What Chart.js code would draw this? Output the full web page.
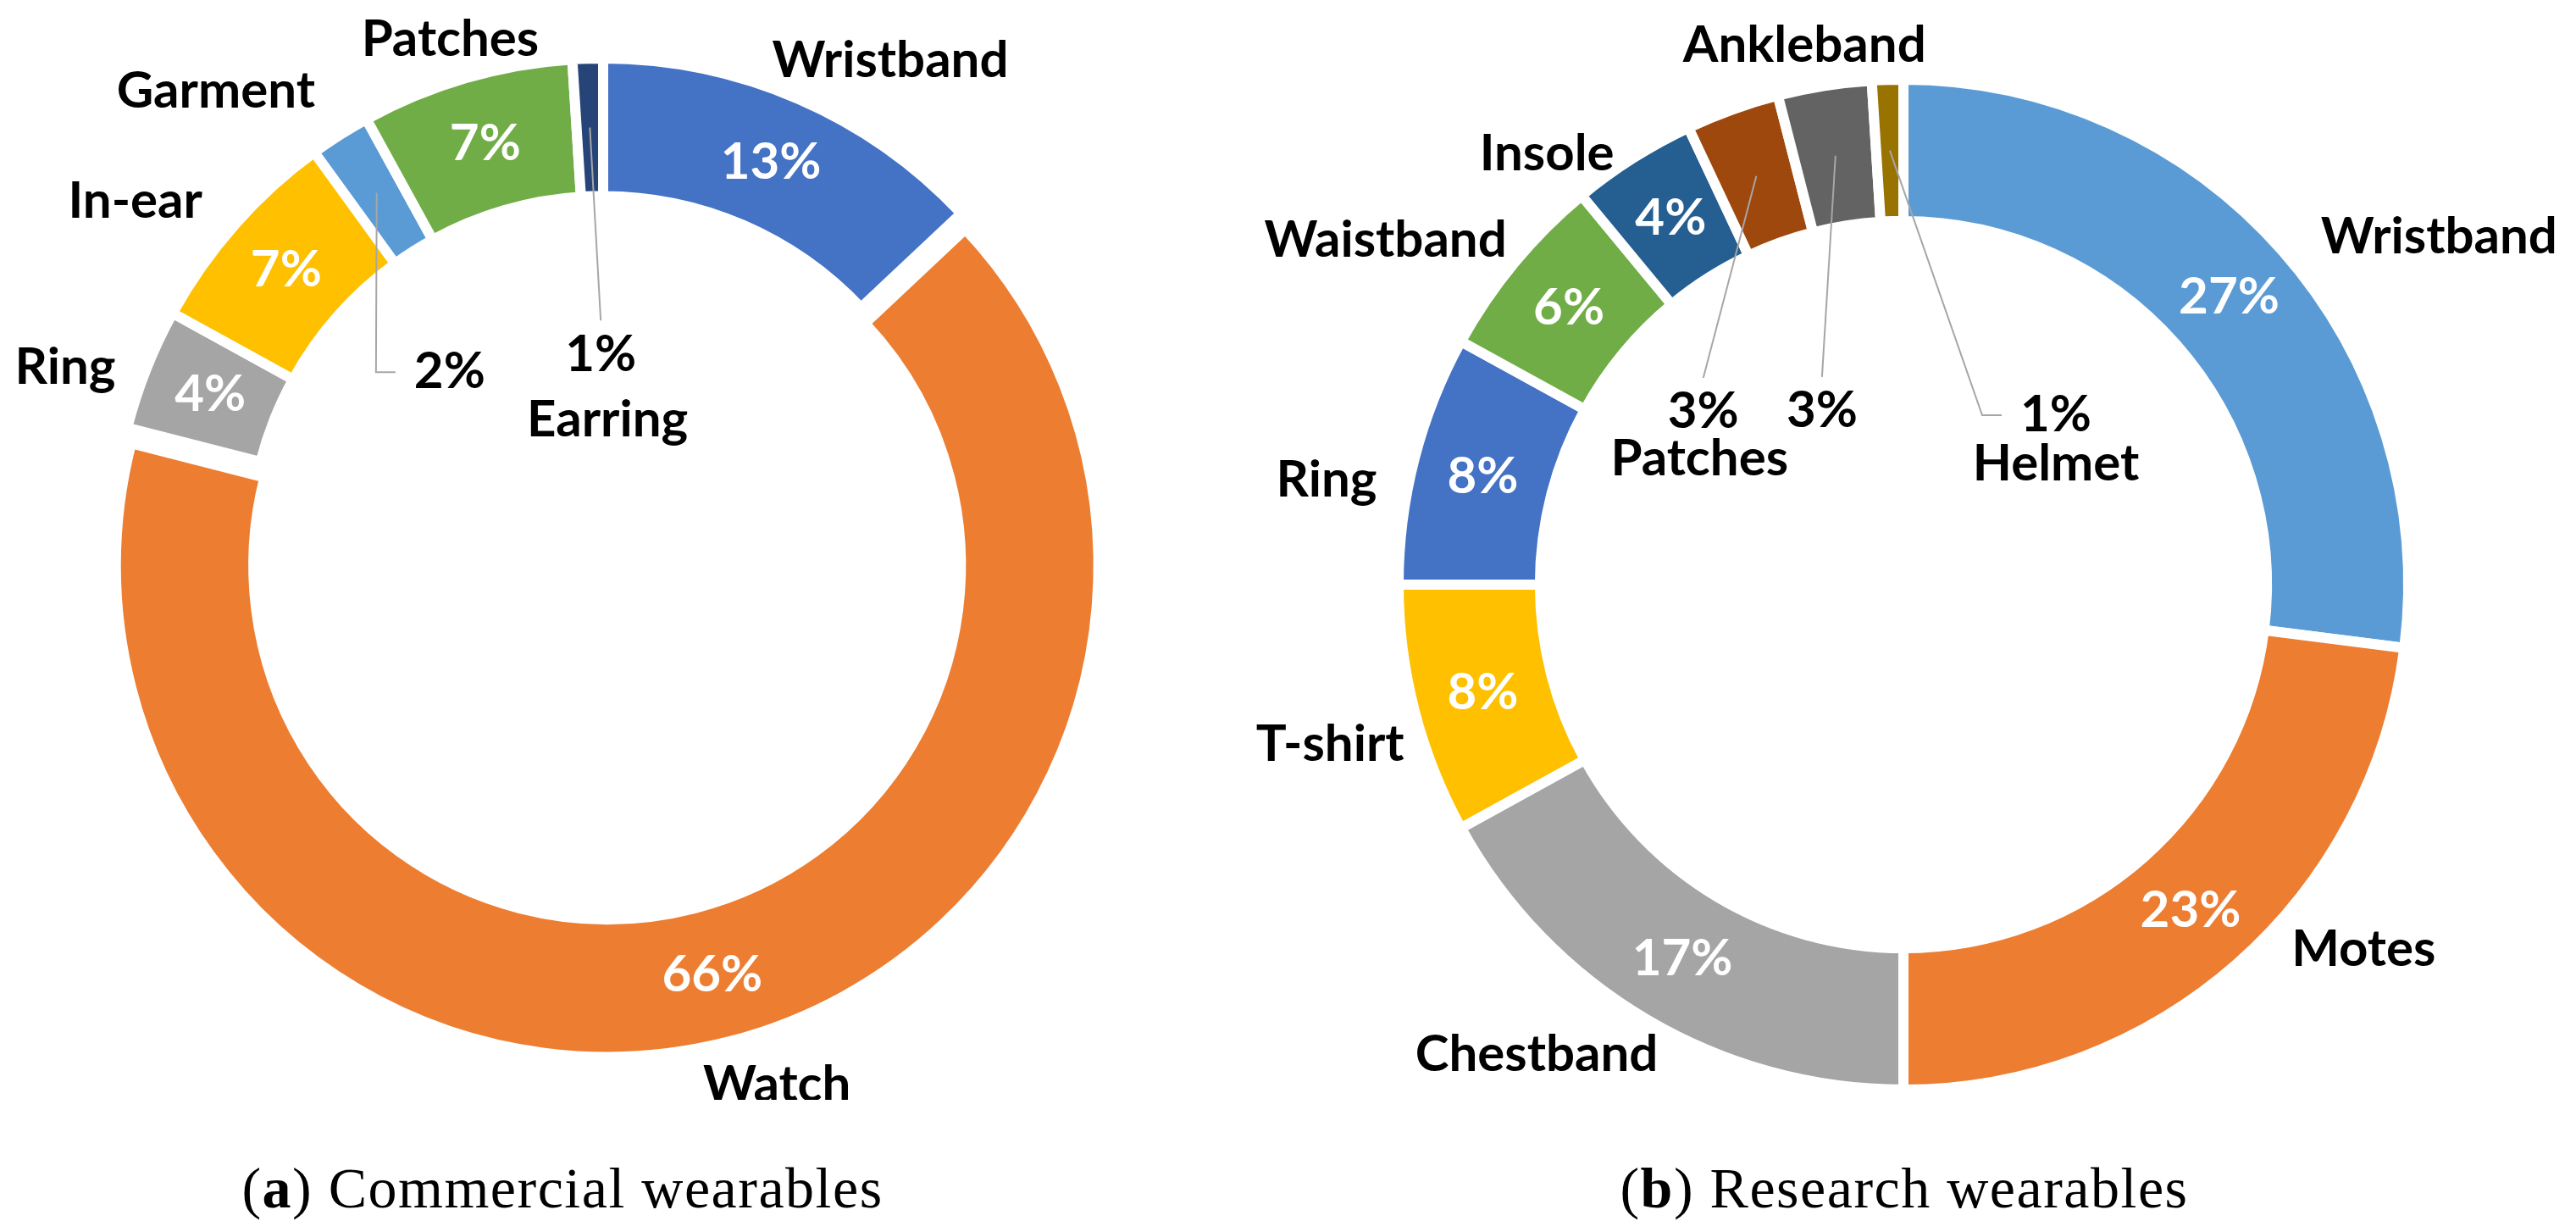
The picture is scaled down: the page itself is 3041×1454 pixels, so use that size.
<!DOCTYPE html>
<html>
<head>
<meta charset="utf-8">
<title>Wearables</title>
<script src="https://cdn.jsdelivr.net/npm/chart.js@4.4.0/dist/chart.umd.min.js"></script>
<style>
  html, body { margin: 0; padding: 0; background: #ffffff; }
  body { width: 3041px; height: 1454px; position: relative; overflow: hidden; }
  canvas { position: absolute; top: 0; }
  #commercial-chart { left: 0px; }
  #research-chart { left: 1460px; }
  .caption {
    position: absolute;
    top: 1368px;
    font-family: 'Liberation Serif', 'Times New Roman', serif;
    font-size: 68px;
    line-height: 68px;
    letter-spacing: 1.5px;
    color: #000;
    white-space: nowrap;
    transform: translateX(-50%);
  }
</style>
</head>
<body>
<canvas id="commercial-chart" width="1424" height="1298"></canvas>
<canvas id="research-chart" width="1574" height="1380"></canvas>
<div class="caption" style="left:664px">(<b>a</b>) Commercial wearables</div>
<div class="caption" style="left:2248px">(<b>b</b>) Research wearables</div>

<script>
// --- Data ---
const commercialCategories = ['Wristband', 'Watch', 'Ring', 'In-ear', 'Garment', 'Patches', 'Earring'];
const commercialShares = [13, 66, 4, 7, 2, 7, 1];

const researchCategories = ['Wristband', 'Motes', 'Chestband', 'T-shirt', 'Ring', 'Waistband', 'Insole', 'Patches', 'Ankleband', 'Helmet'];
const researchShares = [27, 23, 17, 8, 8, 6, 4, 3, 3, 1];

// --- Styles ---
const commercialColors = ['#4472C4', '#ED7D31', '#A5A5A5', '#FFC000', '#5B9BD5', '#70AD47', '#264478'];
const researchColors = ['#5B9BD5', '#ED7D31', '#A5A5A5', '#FFC000', '#4472C4', '#70AD47', '#255E91', '#9E480E', '#636363', '#997300'];

// label placement: [degrees clockwise from 12 o'clock, distance / outer radius]
const commercialNamePos = [[30.4, 1.167], [162.0, 1.157], [288.7, 1.168], [306.7, 1.200], [319.8, 1.234], [343.3, 1.095], [1.9, 0.268]];
// null = white label inside the ring, otherwise [deg, dist, leader style]
const commercialPctPos = [null, null, null, null, [319.2, 0.483, 'side'], null, [359.3, 0.402, 'top']];
const commercialExplode = [0, 19, 0, 0, 0, 0, 0];

const researchNamePos = [[57.0, 1.278], [128.4, 1.175], [218.0, 1.192], [254.4, 1.191], [280.3, 1.173], [303.6, 1.244], [320.4, 1.119], [301.6, 0.479], [349.6, 1.096], [51.7, 0.389]];
const researchPctPos = [null, null, null, null, null, null, null, [310.8, 0.529, 'top'], [334.9, 0.384, 'top'], [42.0, 0.456, 'side']];
const researchExplode = [0, 0, 0, 0, 0, 0, 0, 0, 0, 0];

const BORDER = 12;
const LABEL_FONT = 'bold 60px Lato';

// pushes single slices out along their middle angle
const explodePlugin = {
    id: 'explode',
    afterUpdate(chart, args, opts) {
        const arcs = chart.getDatasetMeta(0).data;
        (opts.distances || []).forEach((d, i) => {
            const arc = arcs[i];
            if (!d || !arc || arc._exploded) return;
            const baseDraw = arc.draw;
            arc.draw = function (ctx, area) {
                const mid = (this.startAngle + this.endAngle) / 2;
                ctx.save();
                ctx.translate(Math.cos(mid) * d, Math.sin(mid) * d);
                baseDraw.call(this, ctx, area);
                ctx.restore();
            };
            arc._exploded = true;
        });
    }
};

// names, percentages and leader lines
const labelPlugin = {
    id: 'sliceLabels',
    afterDatasetsDraw(chart, args, opts) {
        const ctx = chart.ctx;
        const meta = chart.getDatasetMeta(0);
        const values = chart.data.datasets[0].data;
        const total = values.reduce((a, b) => a + b, 0);
        ctx.save();
        ctx.font = LABEL_FONT;
        ctx.textAlign = 'center';
        ctx.textBaseline = 'middle';

        meta.data.forEach((arc, i) => {
            const { x, y, startAngle, endAngle, innerRadius, outerRadius } = arc.getProps(['x', 'y', 'startAngle', 'endAngle', 'innerRadius', 'outerRadius'], true);
            const rOut = outerRadius - BORDER / 2;
            const rIn = innerRadius + BORDER / 2;
            const mid = (startAngle + endAngle) / 2;
            const push = (opts.explode && opts.explode[i]) || 0;
            const ringR = (rOut + rIn) / 2 + push;
            const anchor = { x: x + Math.cos(mid) * ringR, y: y + Math.sin(mid) * ringR };
            const polar = (p) => {
                const a = (p[0] - 90) * Math.PI / 180;
                return { x: x + Math.cos(a) * p[1] * rOut, y: y + Math.sin(a) * p[1] * rOut };
            };
            const pctText = Math.round(values[i] / total * 100) + '%';

            const pp = opts.pctPos[i];
            if (!pp) {
                ctx.fillStyle = '#ffffff';
                ctx.fillText(pctText, anchor.x, anchor.y);
            } else {
                const t = polar(pp);
                const w = ctx.measureText(pctText).width;
                ctx.strokeStyle = '#A6A6A6';
                ctx.lineWidth = 2;
                ctx.beginPath();
                ctx.moveTo(anchor.x, anchor.y);
                if (pp[2] === 'side') {
                    const left = t.x - w / 2;
                    ctx.lineTo(left - 45, t.y);
                    ctx.lineTo(left - 22, t.y);
                } else {
                    ctx.lineTo(t.x, t.y - 40);
                }
                ctx.stroke();
                ctx.fillStyle = '#000000';
                ctx.fillText(pctText, t.x, t.y);
            }

            const n = polar(opts.namePos[i]);
            ctx.fillStyle = '#000000';
            ctx.fillText(chart.data.labels[i], n.x, n.y);
        });
        ctx.restore();
    }
};

function createDonut(canvas, categories, shares, colors, radius, namePos, pctPos, explode) {
    return new Chart(canvas.getContext('2d'), {
        type: 'doughnut',
        data: {
            labels: categories,
            datasets: [{
                data: shares,
                backgroundColor: colors,
                borderColor: '#ffffff',
                borderWidth: BORDER,
                borderJoinStyle: 'miter'
            }]
        },
        options: {
            responsive: false,
            animation: false,
            radius: radius,
            cutout: '72%',
            layout: { padding: 0 },
            events: [],
            plugins: {
                legend: { display: false },
                tooltip: { enabled: false },
                explode: { distances: explode },
                sliceLabels: { namePos: namePos, pctPos: pctPos, explode: explode }
            }
        },
        plugins: [explodePlugin, labelPlugin]
    });
}

document.fonts.load(LABEL_FONT).finally(() => {
    createDonut(document.getElementById('commercial-chart'), commercialCategories, commercialShares,
        commercialColors, 580, commercialNamePos, commercialPctPos, commercialExplode);
    createDonut(document.getElementById('research-chart'), researchCategories, researchShares,
        researchColors, 596, researchNamePos, researchPctPos, researchExplode);
});
</script>
</body>
</html>
